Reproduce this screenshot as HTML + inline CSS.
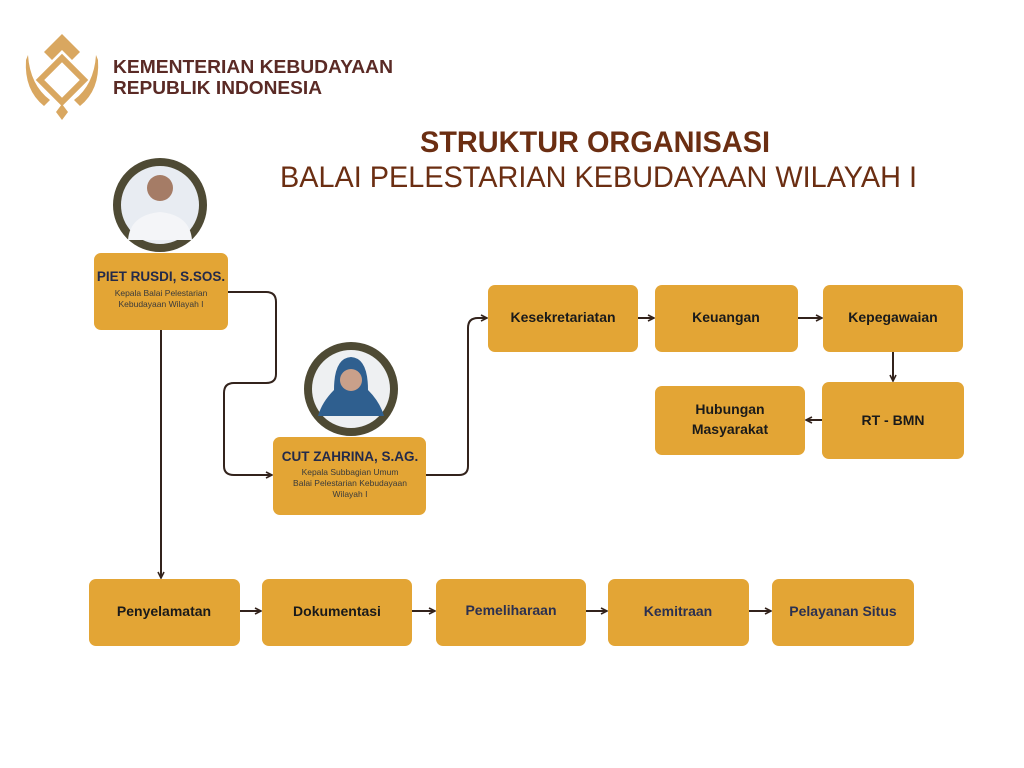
<!DOCTYPE html>
<html><head><meta charset="utf-8"><style>
html,body{margin:0;padding:0;background:#fff;width:1024px;height:768px;overflow:hidden}
text{font-family:"Liberation Sans",sans-serif}
</style></head><body>
<svg width="1024" height="768" viewBox="0 0 1024 768" xmlns="http://www.w3.org/2000/svg">
<defs>
<marker id="a" markerWidth="8" markerHeight="8" refX="7" refY="4" orient="auto" markerUnits="userSpaceOnUse">
<path d="M1,1 L7,4 L1,7" fill="none" stroke="#33231c" stroke-width="1.6"/></marker>
</defs>
<!-- logo -->
<g fill="#d9a760">
<path d="M62,34 L80,52 L72,60 L62,50 L52,60 L44,52 Z"/>
<path d="M62,58 L84,80 L62,102 L40,80 Z" fill="none" stroke="#d9a760" stroke-width="6"/>
<path d="M28,55 Q30,85 50,100 L44,106 Q24,90 26,60 Z"/>
<path d="M96,55 Q94,85 74,100 L80,106 Q100,90 98,60 Z"/>
<path d="M62,104 L68,112 L62,120 L56,112 Z"/>
</g>
<text x="113" y="73" font-size="18.5" font-weight="bold" fill="#5a2a25" textLength="280" lengthAdjust="spacingAndGlyphs">KEMENTERIAN KEBUDAYAAN</text>
<text x="113" y="94" font-size="18.5" font-weight="bold" fill="#5a2a25" textLength="209" lengthAdjust="spacingAndGlyphs">REPUBLIK INDONESIA</text>
<text x="420" y="152" font-size="30" font-weight="bold" fill="#6b2e12" textLength="350" lengthAdjust="spacingAndGlyphs">STRUKTUR ORGANISASI</text>
<text x="280" y="187" font-size="30" fill="#6b2e12" textLength="637" lengthAdjust="spacingAndGlyphs">BALAI PELESTARIAN KEBUDAYAAN WILAYAH I</text>
<!-- connectors -->
<g fill="none" stroke="#33231c" stroke-width="2">
<path d="M228,292 H266 Q276,292 276,302 V374 Q276,383 266,383 H234 Q224,383 224,393 V466 Q224,475 234,475 H272" marker-end="url(#a)"/>
<path d="M161,330 V578" marker-end="url(#a)"/>
<path d="M426,475 H459 Q468,475 468,466 V328 Q468,318 478,318 H487" marker-end="url(#a)"/>
<path d="M638,318 H654" marker-end="url(#a)"/>
<path d="M798,318 H822" marker-end="url(#a)"/>
<path d="M893,352 V381" marker-end="url(#a)"/>
<path d="M822,420 H806" marker-end="url(#a)"/>
<path d="M240,611 H261" marker-end="url(#a)"/>
<path d="M412,611 H435" marker-end="url(#a)"/>
<path d="M586,611 H607" marker-end="url(#a)"/>
<path d="M749,611 H771" marker-end="url(#a)"/>
</g>
<!-- portraits -->
<circle cx="160" cy="205" r="43" fill="#e8ecf2" stroke="#4e4a34" stroke-width="8"/>
<circle cx="160" cy="188" r="13" fill="#a57c66"/>
<path d="M128,240 Q130,215 160,212 Q190,215 192,240 Z" fill="#f4f5f8"/>
<circle cx="351" cy="389" r="43" fill="#eef0f2" stroke="#4e4a34" stroke-width="8"/>
<path d="M334,390 Q334,358 351,357 Q368,358 368,390 Q380,402 384,416 L318,416 Q322,402 334,390 Z" fill="#2f5f8f"/>
<circle cx="351" cy="380" r="11" fill="#c9a08a"/>
<!-- boxes -->
<g fill="#e3a535">
<rect x="94" y="253" width="134" height="77" rx="7"/>
<rect x="273" y="437" width="153" height="78" rx="7"/>
<rect x="488" y="285" width="150" height="67" rx="7"/>
<rect x="655" y="285" width="143" height="67" rx="7"/>
<rect x="823" y="285" width="140" height="67" rx="7"/>
<rect x="822" y="382" width="142" height="77" rx="7"/>
<rect x="655" y="386" width="150" height="69" rx="7"/>
<rect x="89" y="579" width="151" height="67" rx="7"/>
<rect x="262" y="579" width="150" height="67" rx="7"/>
<rect x="436" y="579" width="150" height="67" rx="7"/>
<rect x="608" y="579" width="141" height="67" rx="7"/>
<rect x="772" y="579" width="142" height="67" rx="7"/>
</g>
<g text-anchor="middle">
<text x="161" y="281" font-size="13.5" font-weight="bold" fill="#232a4a">PIET RUSDI, S.SOS.</text>
<text x="161" y="296" font-size="8.5" fill="#3a3a3a">Kepala Balai Pelestarian</text>
<text x="161" y="307" font-size="8.5" fill="#3a3a3a">Kebudayaan Wilayah I</text>
<text x="350" y="461" font-size="13.5" font-weight="bold" fill="#232a4a">CUT ZAHRINA, S.AG.</text>
<text x="350" y="475" font-size="8.5" fill="#3a3a3a">Kepala Subbagian Umum</text>
<text x="350" y="486" font-size="8.5" fill="#3a3a3a">Balai Pelestarian Kebudayaan</text>
<text x="350" y="497" font-size="8.5" fill="#3a3a3a">Wilayah I</text>
<g font-size="14" font-weight="bold" fill="#1a1a1a">
<text x="563" y="322">Kesekretariatan</text>
<text x="726" y="322">Keuangan</text>
<text x="893" y="322">Kepegawaian</text>
<text x="893" y="425">RT - BMN</text>
<text x="730" y="414">Hubungan</text>
<text x="730" y="434">Masyarakat</text>
<text x="164" y="616">Penyelamatan</text>
<text x="337" y="616">Dokumentasi</text>
</g>
<g font-size="14" font-weight="bold" fill="#2b3050">
<text x="511" y="615">Pemeliharaan</text>
<text x="678" y="616">Kemitraan</text>
<text x="843" y="616">Pelayanan Situs</text>
</g>
</g>
</svg>
</body></html>
